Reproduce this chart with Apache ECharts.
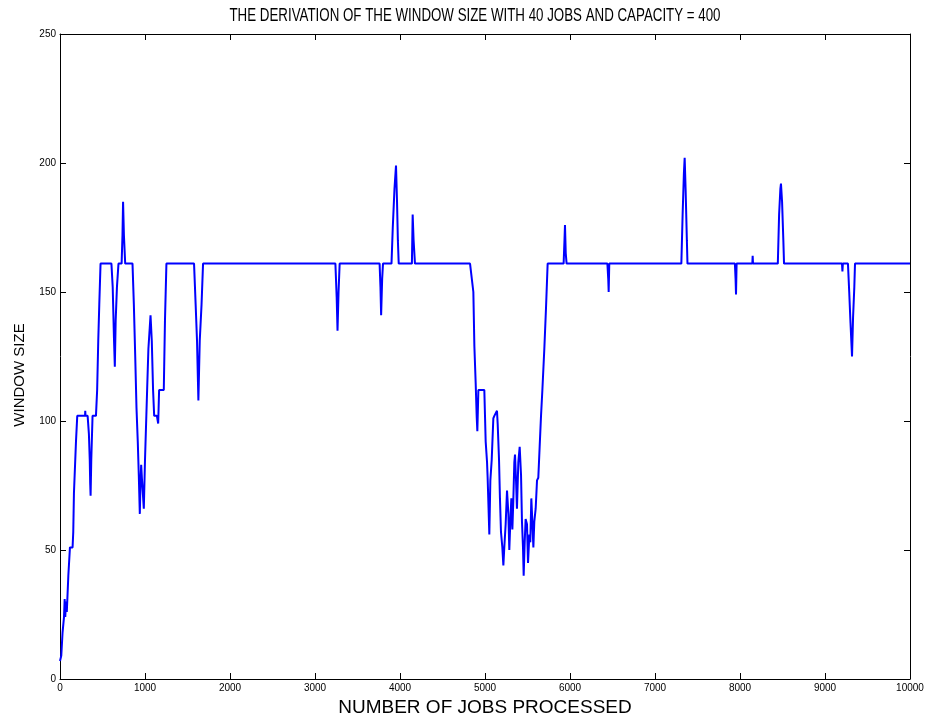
<!DOCTYPE html>
<html>
<head>
<meta charset="utf-8">
<script src="https://cdn.jsdelivr.net/npm/echarts@6/dist/echarts.min.js"></script>
<style>
  html, body { margin: 0; padding: 0; background: #fff; }
  #chart { width: 932px; height: 722px; }
</style>
</head>
<body>
<div id="chart"></div>
<script>
// Window size over the number of jobs processed (40 jobs, capacity = 400)
const jobs = [
  0, 15, 30, 47, 55, 62, 70, 80, 98, 117, 148, 156, 164, 188, 203, 295, 297, 300, 325,
  340, 350, 355, 360, 368, 383, 423, 437, 450, 462, 477, 605, 620, 635, 645, 655, 670,
  688, 725, 735, 742, 752, 767, 853, 869, 885, 900, 915, 927, 939, 947, 955, 965, 986,
  1000, 1025, 1040, 1065, 1080, 1095, 1108, 1140, 1155, 1166, 1221, 1235, 1252, 1577,
  1596, 1612, 1628, 1644, 1665, 1683, 3240, 3255, 3265, 3277, 3290, 3760, 3770, 3778,
  3790, 3800, 3900, 3915, 3935, 3953, 3965, 3975, 3985, 4140, 4149, 4160, 4176, 4824,
  4863, 4875, 4890, 4902, 4910, 4922, 4992, 5000, 5008, 5024, 5031, 5051, 5063, 5079,
  5098, 5110, 5141, 5149, 5165, 5176, 5188, 5204, 5216, 5227, 5243, 5259, 5275, 5286,
  5298, 5310, 5322, 5333, 5345, 5353, 5365, 5376, 5392, 5408, 5424, 5435, 5447, 5455,
  5467, 5478, 5494, 5506, 5522, 5533, 5545, 5557, 5569, 5580, 5596, 5612, 5627, 5643,
  5659, 5675, 5698, 5718, 5737, 5925, 5935, 5941, 5950, 5960, 6440, 6450, 6455, 6462,
  7310, 7325, 7340, 7349, 7360, 7375, 7382, 7940, 7948, 7953, 7960, 8145, 8149, 8153,
  8445, 8460, 8475, 8482, 8495, 8510, 8518, 9200, 9205, 9210, 9270, 9285, 9300, 9318,
  9330, 9345, 9353, 10000
];
const windowSize = [
  7, 9, 18, 24, 31, 24, 30, 26, 40, 51, 51, 57, 72, 92, 102, 102, 104, 102, 102,
  95, 85, 76, 71, 85, 102, 102, 112, 131, 145, 161, 161, 152, 132, 121, 139, 152,
  161, 161, 172, 185, 172, 161, 161, 145, 125, 105, 92, 79, 64, 76, 83, 77, 66,
  85, 112, 128, 141, 131, 112, 102, 102, 99, 112, 112, 139, 161, 161,
  145, 131, 108, 131, 145, 161, 161, 148, 135, 150, 161, 161, 152, 141,
  155, 161, 161, 175, 190, 199, 185, 170, 161, 161, 180, 170, 161, 161,
  150, 129, 115, 102, 96, 112, 112, 102, 92, 84, 78, 56, 77, 85,
  101, 102, 104, 99, 85, 70, 57, 51, 44, 51, 60, 73, 64, 50,
  61, 70, 58, 69, 84, 87, 77, 66, 84, 90, 79, 61, 51, 40,
  53, 62, 60, 45, 56, 53, 70, 61, 51, 61, 66, 77, 78, 90,
  102, 112, 128, 144, 161, 161, 170, 176, 165, 161, 161, 155, 150, 161,
  161, 180, 196, 202, 190, 170, 161, 161, 155, 149, 161, 161, 164, 161,
  161, 180, 190, 192, 185, 170, 161, 161, 158, 161, 161, 150, 138, 125,
  140, 152, 161, 161
];
const xTicks = { min: 0, max: 10000, interval: 1000 };
const yTicks = { min: 0, max: 250, interval: 50 };

const points = jobs.map((j, i) => [j, windowSize[i]]);

const chart = echarts.init(document.getElementById('chart'), null, { renderer: 'canvas' });
const FONT = 'Liberation Sans, Arial, sans-serif';
const boxLine = { show: true, onZero: false, lineStyle: { color: '#000', width: 1 } };
const inTick = { show: true, inside: true, length: 6, lineStyle: { color: '#000', width: 1 } };
const plain = v => String(v);

chart.setOption({
  animation: false,
  backgroundColor: '#fff',
  graphic: [
    {
      // condensed title, centred over the plot
      type: 'text', x: 475, y: 16, scaleX: 0.74, originX: 0, originY: 0,
      style: {
        text: 'THE DERIVATION OF THE WINDOW SIZE WITH 40 JOBS AND CAPACITY = 400',
        font: '18px "Liberation Sans", Arial, sans-serif', fill: '#000',
        align: 'center', verticalAlign: 'middle'
      }
    },
    {
      type: 'text', x: 20, y: 375, rotation: Math.PI / 2,
      style: {
        text: 'WINDOW SIZE', font: '15px "Liberation Sans", Arial, sans-serif', fill: '#000',
        align: 'center', verticalAlign: 'middle'
      }
    }
  ],
  grid: { left: 60, right: 22, top: 34, bottom: 41, containLabel: false },
  xAxis: [
    {
      type: 'value', position: 'bottom', min: xTicks.min, max: xTicks.max, interval: xTicks.interval,
      axisLine: boxLine, axisTick: inTick, splitLine: { show: false },
      axisLabel: { fontFamily: FONT, fontSize: 10, color: '#000', margin: 4, formatter: plain },
      name: 'NUMBER OF JOBS PROCESSED', nameLocation: 'middle', nameGap: 19,
      nameTextStyle: { fontFamily: FONT, fontSize: 19, color: '#000' }
    },
    {
      type: 'value', position: 'top', min: xTicks.min, max: xTicks.max, interval: xTicks.interval,
      axisLine: boxLine, axisTick: inTick, splitLine: { show: false }, axisLabel: { show: false }
    }
  ],
  yAxis: [
    {
      type: 'value', position: 'left', min: yTicks.min, max: yTicks.max, interval: yTicks.interval,
      axisLine: boxLine, axisTick: inTick, splitLine: { show: false },
      axisLabel: { fontFamily: FONT, fontSize: 10, color: '#000', margin: 4, formatter: plain }
    },
    {
      type: 'value', position: 'right', min: yTicks.min, max: yTicks.max, interval: yTicks.interval,
      axisLine: boxLine, axisTick: inTick, splitLine: { show: false }, axisLabel: { show: false }
    }
  ],
  series: [{
    type: 'line', xAxisIndex: 0, yAxisIndex: 0,
    data: points, showSymbol: false, symbol: 'none',
    lineStyle: { color: '#0000ff', width: 2 }
  }]
});
</script>
</body>
</html>
